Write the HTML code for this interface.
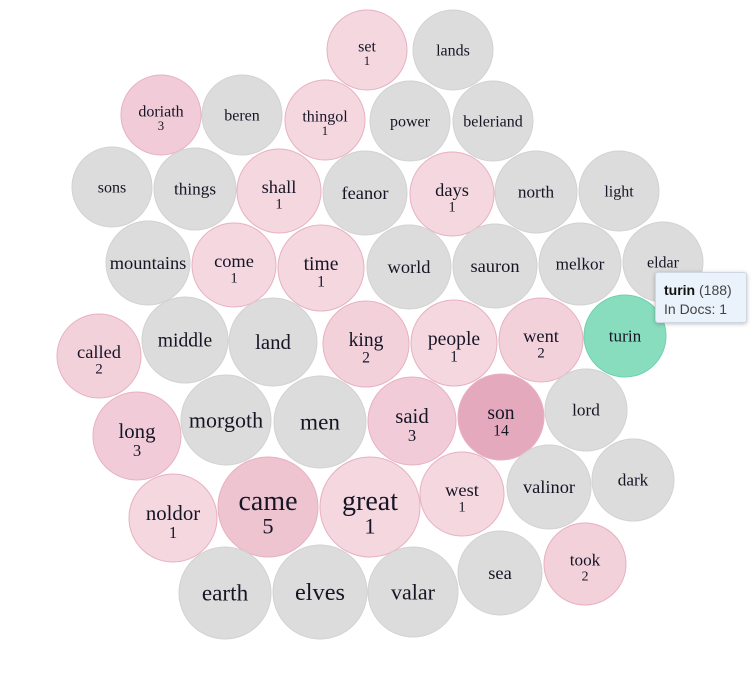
<!DOCTYPE html>
<html><head><meta charset="utf-8"><style>
body{margin:0;background:#fff;width:753px;height:675px;overflow:hidden;position:relative;font-family:"Liberation Serif",serif}
#tip{position:absolute;left:655px;top:272px;width:92px;height:51px;box-sizing:border-box;background:#eaf2fb;border:1px solid #cfd8e2;border-radius:3px;box-shadow:0 1px 4px rgba(0,0,0,.25);font-family:"Liberation Sans",sans-serif;font-size:14px;color:#444;padding:8px 0 0 8px;line-height:19px}
</style></head><body>
<svg id="c" width="753" height="675"></svg>
<div id="tip"><b style="color:#111">turin</b> (188)<br>In Docs: 1</div>
<script>
const words=["set","lands","doriath","beren","thingol","power","beleriand","sons","things","shall","feanor","days","north","light","mountains","come","time","world","sauron","melkor","eldar","called","middle","land","king","people","went","turin","long","morgoth","men","said","son","lord","noldor","came","great","west","valinor","dark","earth","elves","valar","sea","took"];
const docs=[1,0,3,0,1,0,0,0,0,1,0,1,0,0,0,1,1,0,0,0,0,2,0,0,2,1,2,-1,3,0,0,3,14,0,1,5,1,1,0,0,0,0,0,0,2];
const radii=[40,40,40,40,40,40,40,40,41,42,42,42,41,40,42,42,43,42,42,41,40,42,43,44,43,43,42,41,44,45,46,44,43,41,44,50,50,42,42,41,46,47,45,42,41];
const layoutX=[367,453,161,242,325,410,493,112,195,279,365,452,536,619,148,234,321,409,495,580,663,99,185,273,366,454,541,625,137,226,320,412,501,586,173,268,370,462,549,633,225,320,413,500,585];
const layoutY=[50,50,115,115,120,121,121,187,189,191,193,194,192,191,263,265,268,267,266,264,262,356,340,342,344,343,340,336,436,420,422,421,417,410,518,507,507,494,487,480,593,592,592,573,564];
const svg=document.getElementById('c'),NS="http://www.w3.org/2000/svg";
function fill(d){if(d<0)return["#88ddbf","#70d2ad"];if(d===0)return["#dcdcdc","#d2d2d2"];
 const t=Math.min(1,Math.pow(d/14,0.6));
 const a=[249,227,233],b=[229,169,189];
 const c=a.map((v,i)=>Math.round(v+(b[i]-v)*t));return["rgb("+c+")","#e8b0c2"];}
words.forEach((w,i)=>{
 const g=document.createElementNS(NS,'g');
 
 
 const r=radii[i],x=layoutX[i],y=layoutY[i],[f,s]=fill(docs[i]);
 const c=document.createElementNS(NS,'circle');
 c.setAttribute('cx',x);c.setAttribute('cy',y);c.setAttribute('r',r);
 c.setAttribute('fill',f);c.setAttribute('stroke',s);c.setAttribute('stroke-width',1);
 g.appendChild(c);
 const fs=Math.max(15,(r-40)*1.2+16);
 const t=document.createElementNS(NS,'text');
 t.setAttribute('x',x);t.setAttribute('y',docs[i]>0?y+fs*0.1:y+fs*0.33);
 t.setAttribute('text-anchor','middle');t.setAttribute('font-size',fs);t.setAttribute('fill','#151525');
 t.textContent=w;g.appendChild(t);
 if(docs[i]>0){const n=document.createElementNS(NS,'text');
  n.setAttribute('x',x);n.setAttribute('y',y+fs*0.1+fs*0.85);
  n.setAttribute('text-anchor','middle');n.setAttribute('font-size',fs*0.8);n.setAttribute('fill','#151525');
  n.textContent=docs[i];g.appendChild(n);}
 svg.appendChild(g);
});
</script>
</body></html>
